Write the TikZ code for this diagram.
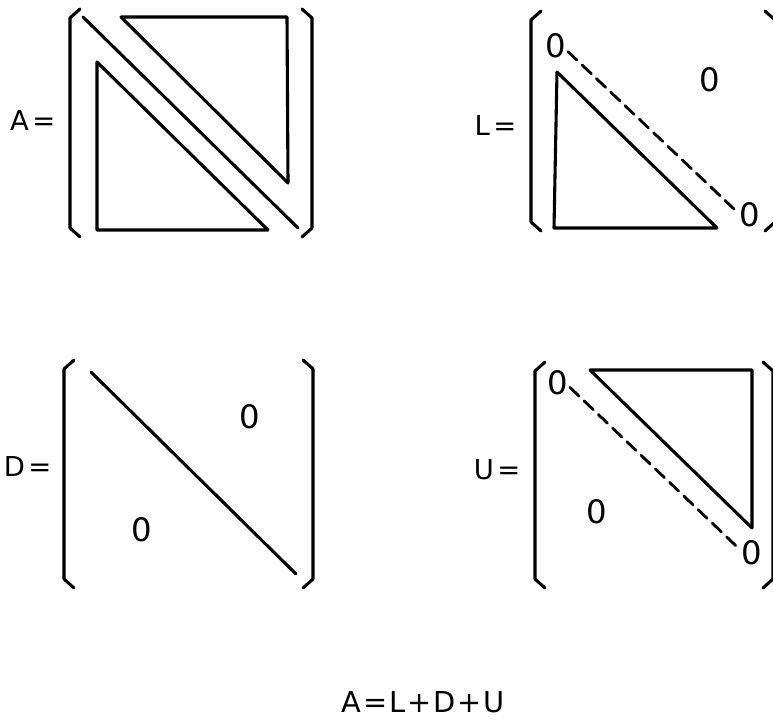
\documentclass[tikz,border=0pt]{standalone}
\usepackage{fontspec}
\setmainfont{DejaVu Sans}
\usetikzlibrary{positioning}

\begin{document}
\begin{tikzpicture}[x=0.025cm,y=-0.025cm,line width=2.2pt,line join=round,line cap=round,
  lab/.style={anchor=east,inner sep=0pt,font=\fontsize{19.5}{22}\selectfont},
  zero/.style={inner sep=0pt,font=\fontsize{23}{27}\selectfont},
  dsh/.style={line width=2pt,dash pattern=on 9pt off 5pt}]
\useasboundingbox (0,0) rectangle (773,723);
% brackets: left x / right x / top / bottom
\foreach \xl/\xr/\t/\b in {70/312/9/237,531/775/11/231,64/313/360/588,535/773/362/588}{
  \draw (\xl+10,\t) -- (\xl,\t+9) -- (\xl,\b-9) -- (\xl+10,\b);
  \draw (\xr-10,\t) -- (\xr,\t+9) -- (\xr,\b-9) -- (\xr-10,\b);
}
% A
\node[lab] (labA) at (57,121) {A\kern2.5pt=};
\draw (83,17) -- (298,228);
\draw (121,17) -- (287,17) -- (288,183) -- cycle;
\draw (97,62) -- (97,230) -- (268,230) -- cycle;
% L
\node[lab] (labL) at (518,126) {L\kern2.5pt=};
\node[zero] (l1) at (556,46) {0};
\node[zero] (l2) at (710,80) {0};
\node[zero] (l3) at (750,215) {0};
\draw[dsh] (l1.-25) -- (l3.170);
\draw (557,72) -- (554,228) -- (717,228) -- cycle;
% D
\node[lab] (labD) at (53,466) {D\kern2.5pt=};
\node[zero] (d1) at (250,417) {0};
\node[zero] (d2) at (142,530) {0};
\draw (91,372) -- (296,574);
% U
\node[lab] (labU) at (522,470) {U\kern2.5pt=};
\node[zero] (u1) at (558,383) {0};
\node[zero] (u2) at (597,512) {0};
\node[zero] (u3) at (752,553) {0};
\draw[dsh] (u1.-20) -- (u3.165);
\draw (590,370) -- (752,370) -- (752,528) -- cycle;
% sum
\node[inner sep=0pt,font=\fontsize{20.5}{24}\selectfont] (sum) at (423,702)
  {A\kern1.3pt=\kern1.3pt L\kern1.3pt+\kern1.3pt D\kern1.3pt+\kern1.3pt U};
\end{tikzpicture}
\end{document}
